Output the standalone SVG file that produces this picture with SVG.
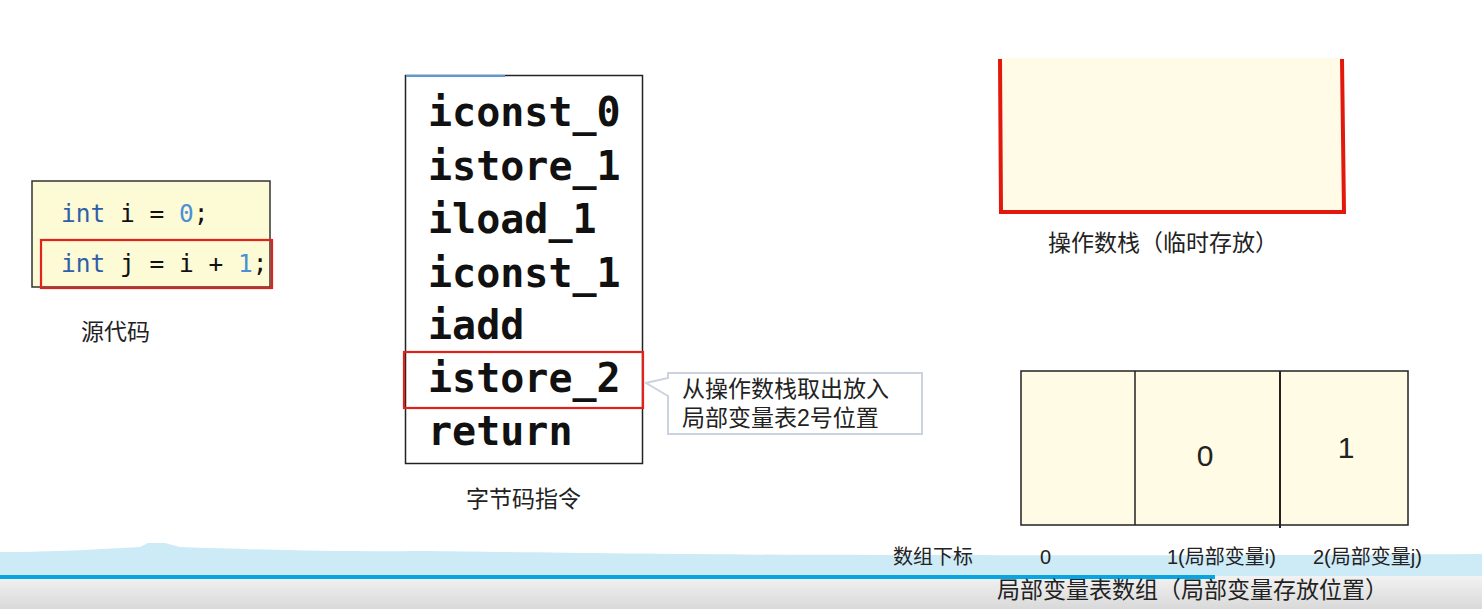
<svg xmlns="http://www.w3.org/2000/svg" width="1482" height="609" viewBox="0 0 1482 609">
  <defs>
    <style>
      .cjk { font-family: "Liberation Sans", "Noto Sans CJK SC", sans-serif; fill: #222; }
      .code { font-family: "DejaVu Sans Mono", "Liberation Mono", monospace; font-size: 24.5px; fill: #111; }
      .kw { fill: #2f5fa8; }
      .num { fill: #4d8fd6; }
      .bc { font-family: "DejaVu Sans Mono", "Liberation Mono", monospace; font-size: 40px; font-weight: bold; fill: #111; }
      .hl { fill: none; stroke: #e3231b; stroke-width: 2.2; }
      .cell { fill: #fffbe4; stroke: #222; stroke-width: 1.5; }
      .big { font-family: "Liberation Sans", "Noto Sans", sans-serif; font-size: 30px; fill: #222; }
    </style>
    <linearGradient id="bottomGrad" x1="0" y1="0" x2="0" y2="1">
      <stop offset="0" stop-color="#f2f2f2"/>
      <stop offset="1" stop-color="#d9d9d9"/>
    </linearGradient>
  </defs>
  <rect width="1482" height="609" fill="#ffffff"/>

  <!-- bottom background strip -->
  <path d="M0,552 C40,552 90,550 140,547 L148,543 L165,543 L180,547 C260,550 360,552 420,551 C520,552 700,555 880,555 C1000,555 1200,556 1482,554 L1482,576 L0,576 Z" fill="#cdeaf7"/>
  <rect x="0" y="576" width="1482" height="33" fill="url(#bottomGrad)"/>
  <rect x="0" y="575" width="1215" height="4" fill="#08a6e0"/>

  <!-- source code node -->
  <g id="source-code">
    <rect x="32" y="181" width="238" height="106" fill="#fdfad6" stroke="#333" stroke-width="1.5"/>
    <text class="code" x="61" y="222"><tspan class="kw">int</tspan> i = <tspan class="num">0</tspan>;</text>
    <text class="code" x="61" y="272"><tspan class="kw">int</tspan> j = i + <tspan class="num">1</tspan>;</text>
    <rect class="hl" x="41" y="240" width="231" height="48"/>
    <text class="cjk" x="81" y="340" font-size="23">源代码</text>
  </g>

  <!-- bytecode node -->
  <g id="bytecode">
    <rect x="405.5" y="75.5" width="237" height="388" fill="#ffffff" stroke="#222" stroke-width="1.5"/>
    <line x1="406" y1="76" x2="505" y2="76" stroke="#5b9bd5" stroke-width="2"/>
    <text class="bc" x="428" y="126">iconst_0</text>
    <text class="bc" x="428" y="180">istore_1</text>
    <text class="bc" x="428" y="233">iload_1</text>
    <text class="bc" x="428" y="287">iconst_1</text>
    <text class="bc" x="428" y="339">iadd</text>
    <text class="bc" x="428" y="392">istore_2</text>
    <text class="bc" x="428" y="445">return</text>
    <rect class="hl" x="404" y="352" width="239" height="56"/>
    <text class="cjk" x="466" y="507" font-size="23">字节码指令</text>
  </g>

  <!-- callout -->
  <g id="callout">
    <path d="M668,373 L922,373 L922,434 L668,434 L668,396 L646,383 L668,378 Z" fill="#ffffff" stroke="#cbd3df" stroke-width="2"/>
    <text class="cjk" x="682" y="397" font-size="23">从操作数栈取出放入</text>
    <text class="cjk" x="682" y="426" font-size="23">局部变量表2号位置</text>
  </g>

  <!-- operand stack -->
  <g id="operand-stack">
    <rect x="1000" y="58" width="342" height="154" fill="#fffbe6"/>
    <path d="M1000,59 L1001,212 L1344,212 L1342,59" fill="none" stroke="#e3180c" stroke-width="4"/>
    <text class="cjk" x="1048" y="251" font-size="23">操作数栈（临时存放）</text>
  </g>

  <!-- local variable table -->
  <g id="local-variable-table">
    <rect class="cell" x="1021" y="371" width="387" height="154"/>
    <line x1="1135" y1="371" x2="1135" y2="525" stroke="#222" stroke-width="1.5"/>
    <line x1="1280" y1="371" x2="1280" y2="528" stroke="#222" stroke-width="2"/>
    <text class="big" x="1205" y="466" text-anchor="middle">0</text>
    <text class="big" x="1346" y="458" text-anchor="middle">1</text>
    <text class="cjk" x="893" y="564" font-size="20">数组下标</text>
    <text class="cjk" x="1040" y="564" font-size="20">0</text>
    <text class="cjk" x="1167" y="564" font-size="20">1(局部变量i)</text>
    <text class="cjk" x="1313" y="564" font-size="20">2(局部变量j)</text>
    <text class="cjk" x="997" y="598" font-size="23">局部变量表数组（局部变量存放位置）</text>
  </g>

  <g id="connectors"></g>
</svg>
